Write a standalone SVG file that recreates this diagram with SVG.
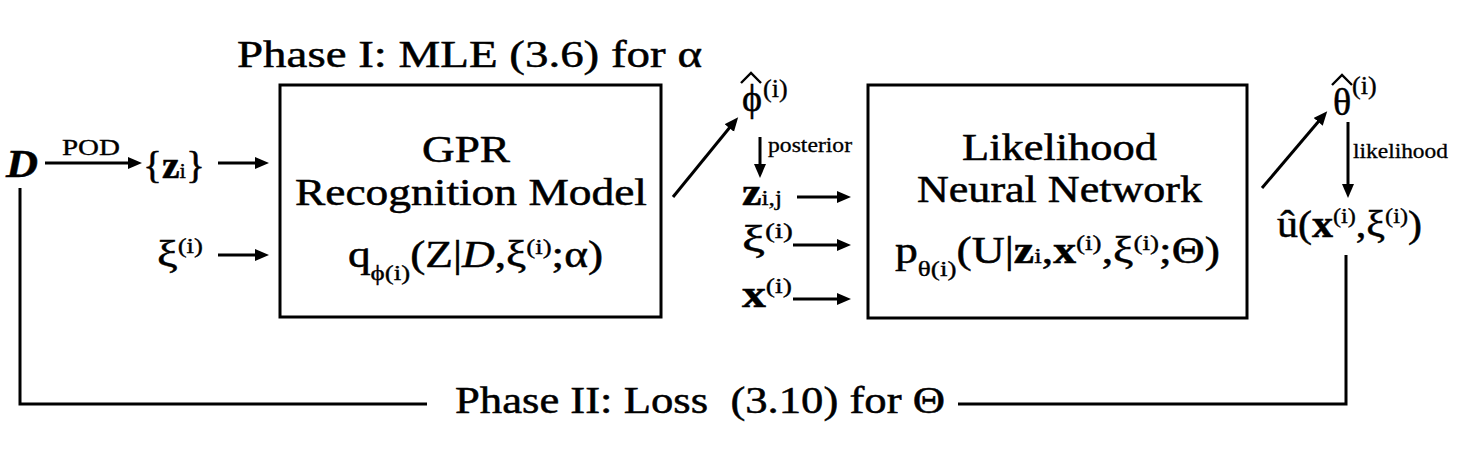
<svg xmlns="http://www.w3.org/2000/svg" width="1467" height="463" viewBox="0 0 1467 463">
<style>
text{font-family:"Liberation Serif","Times New Roman",serif;fill:#000;stroke:#000;stroke-width:0.5}
.big{font-size:38px}
.box{font-size:37px}
.m{font-size:38px}
.lab{font-size:20px;stroke-width:0.3}
.s{font-size:22px;stroke-width:0.35}
.s2{font-size:26px;stroke-width:0.4}
.hat{fill:none;stroke:#000;stroke-width:2.4;stroke-linejoin:miter}
.b{font-weight:bold}
.i{font-style:italic}
.pre{white-space:pre}
.frame{fill:none;stroke:#000;stroke-width:3}
.conn line,.conn polyline{stroke:#000;stroke-width:3;fill:none}
</style>
<defs>
<marker id="ah" markerUnits="userSpaceOnUse" markerWidth="15" markerHeight="13" refX="9" refY="6" orient="auto">
<path d="M0,0 L14,6 L0,12 z" fill="#000"/>
</marker>
</defs>
<rect width="1467" height="463" fill="#fff"/>

<g id="title1"><text class="big" x="237" y="67" textLength="465" lengthAdjust="spacingAndGlyphs">Phase I: MLE (3.6) for α</text></g>
<g id="title2"><text class="big pre" x="455" y="413" textLength="490" lengthAdjust="spacingAndGlyphs">Phase II: Loss  (3.10) for Θ</text></g>

<g id="D"><text class="b i" style="font-size:40px" x="6" y="177" textLength="32" lengthAdjust="spacingAndGlyphs">D</text></g>
<g id="pod"><text style="font-size:24px;stroke-width:0.35" x="62" y="155" textLength="58" lengthAdjust="spacingAndGlyphs">POD</text></g>
<g id="zset"><text class="m" x="143" y="178" textLength="62" lengthAdjust="spacingAndGlyphs">{<tspan class="b">z</tspan><tspan class="s">i</tspan>}</text></g>
<g id="xi1"><text class="m" x="157" y="267" textLength="46" lengthAdjust="spacingAndGlyphs">ξ<tspan class="s" dy="-14">(i)</tspan></text></g>

<g id="gpr">
<rect class="frame" x="280" y="85" width="381" height="232"/>
<text class="box" x="466" y="162" text-anchor="middle" textLength="88" lengthAdjust="spacingAndGlyphs">GPR</text>
<text class="box" x="295" y="205" textLength="352" lengthAdjust="spacingAndGlyphs">Recognition Model</text>
<text class="box" x="348" y="267" textLength="255" lengthAdjust="spacingAndGlyphs">q<tspan class="s" dy="13">ϕ(i)</tspan><tspan dy="-13">(Z|</tspan><tspan class="i">D</tspan>,ξ<tspan class="s" dy="-13">(i)</tspan><tspan dy="13">;α)</tspan></text>
</g>

<g id="phihat">
<polyline class="hat" points="741,83 751,73 761,83"/>
<text class="m" x="742" y="111">ϕ<tspan class="s2" x="763" y="97">(i)</tspan></text>
</g>
<g id="posterior"><text class="lab" x="768" y="152" textLength="84" lengthAdjust="spacingAndGlyphs">posterior</text></g>
<g id="zij"><text class="m" x="742" y="205" textLength="40" lengthAdjust="spacingAndGlyphs"><tspan class="b">z</tspan><tspan class="s">i,j</tspan></text></g>
<g id="xi2"><text class="m" x="742" y="252" textLength="51" lengthAdjust="spacingAndGlyphs">ξ<tspan class="s" dy="-14">(i)</tspan></text></g>
<g id="x2"><text class="m" x="742" y="307" textLength="50" lengthAdjust="spacingAndGlyphs"><tspan class="b">x</tspan><tspan class="s" dy="-14">(i)</tspan></text></g>

<g id="lnn">
<rect class="frame" x="868" y="85" width="379" height="233"/>
<text class="box" x="962" y="160" textLength="195" lengthAdjust="spacingAndGlyphs">Likelihood</text>
<text class="box" x="917" y="202" textLength="285" lengthAdjust="spacingAndGlyphs">Neural Network</text>
<text class="box" x="895" y="263" textLength="325" lengthAdjust="spacingAndGlyphs">p<tspan class="s" dy="13">θ(i)</tspan><tspan dy="-13">(U|</tspan><tspan class="b">z</tspan><tspan class="s">i</tspan>,<tspan class="b">x</tspan><tspan class="s" dy="-13">(i)</tspan><tspan dy="13">,ξ</tspan><tspan class="s" dy="-13">(i)</tspan><tspan dy="13">;Θ)</tspan></text>
</g>

<g id="thetahat">
<polyline class="hat" points="1332,85 1342,75 1352,85"/>
<text class="m" x="1333" y="115">θ<tspan class="s2" x="1352" y="94">(i)</tspan></text>
</g>
<g id="likelihood"><text class="lab" x="1353" y="158" textLength="95" lengthAdjust="spacingAndGlyphs">likelihood</text></g>
<g id="uhat"><text class="m" x="1277" y="237" textLength="145" lengthAdjust="spacingAndGlyphs">û(<tspan class="b">x</tspan><tspan class="s" dy="-14">(i)</tspan><tspan dy="14">,ξ</tspan><tspan class="s" dy="-14">(i)</tspan><tspan dy="14">)</tspan></text></g>

<g class="conn" id="connectors">
<line x1="45" y1="163" x2="137" y2="163" marker-end="url(#ah)"/>
<line x1="218" y1="163" x2="264" y2="163" marker-end="url(#ah)"/>
<line x1="218" y1="255" x2="264" y2="255" marker-end="url(#ah)"/>
<line x1="673" y1="197" x2="735" y2="121" marker-end="url(#ah)"/>
<line x1="760" y1="137" x2="760" y2="173" marker-end="url(#ah)"/>
<line x1="797" y1="197" x2="846" y2="197" marker-end="url(#ah)"/>
<line x1="793" y1="245" x2="846" y2="245" marker-end="url(#ah)"/>
<line x1="793" y1="299" x2="846" y2="299" marker-end="url(#ah)"/>
<line x1="1262" y1="188" x2="1324" y2="115" marker-end="url(#ah)"/>
<line x1="1348" y1="122" x2="1348" y2="193" marker-end="url(#ah)"/>
<polyline points="20,188 20,404 427,404"/>
<polyline points="958,404 1346,404 1346,255"/>
</g>
</svg>
